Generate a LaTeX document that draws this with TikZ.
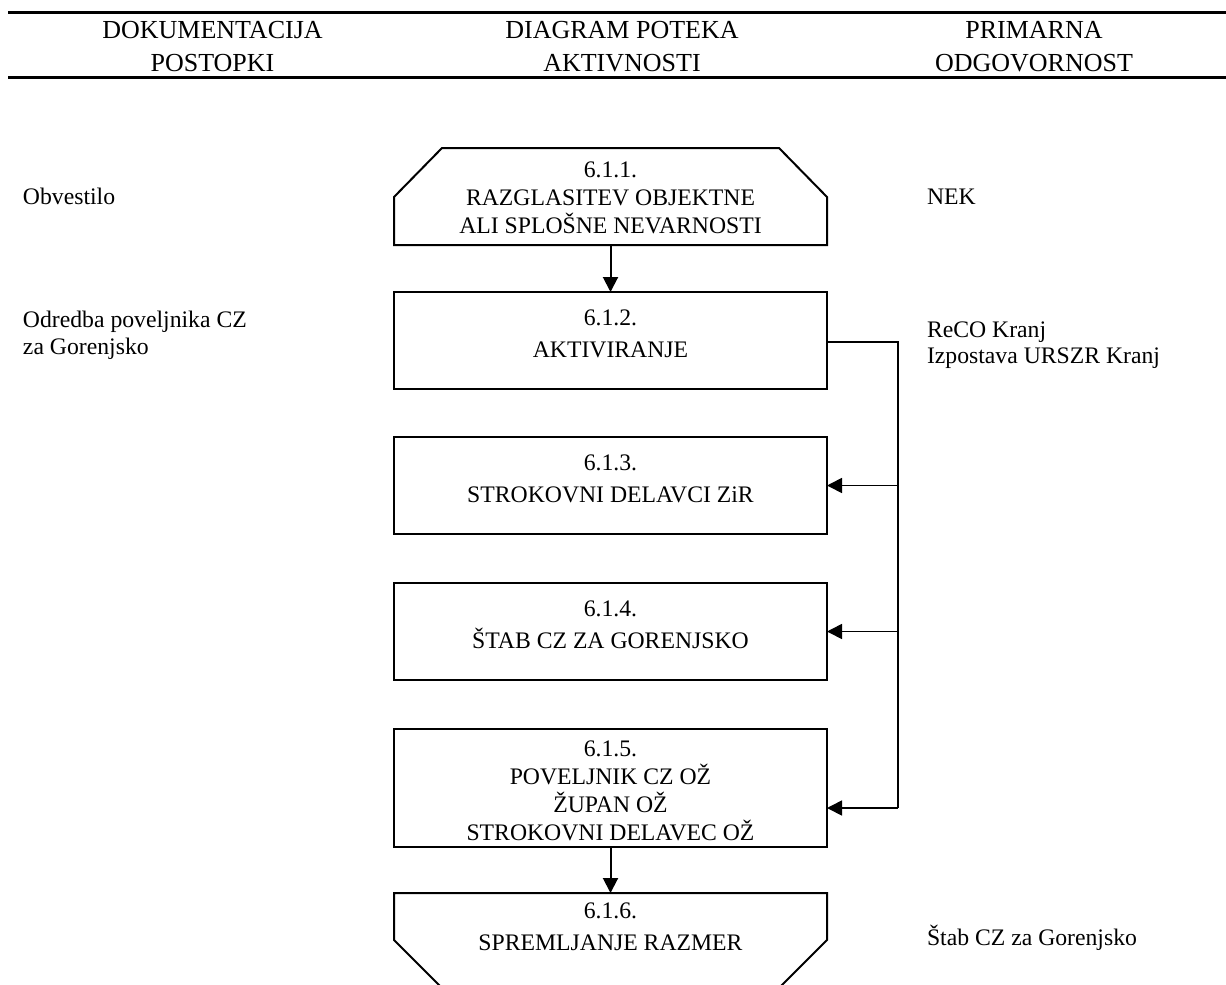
\documentclass[tikz,border=0pt]{standalone}
\usepackage{fontspec}
\setmainfont{Liberation Serif}
\usetikzlibrary{arrows.meta}
\begin{document}
\begin{tikzpicture}[x=0.5pt,y=-0.5pt,
  every node/.style={inner sep=0pt, outer sep=0pt},
  body/.style={font=\fontsize{11.85}{14}\selectfont, anchor=base},
  ltext/.style={body, anchor=base west},
  hdr/.style={font=\fontsize{13}{16}\selectfont, anchor=base},
  rule/.style={line width=1.2pt},
  boxshape/.style={draw, line width=1pt, minimum width=216.5pt, minimum height=#1},
  chamfbox/.style={minimum width=216.5pt, minimum height=#1},
  outline/.style={line width=1pt, line join=miter},
  conn/.style={line width=0.85pt},
  arr/.style={-{Triangle[length=7.5pt,width=7.5pt]}, line width=1pt},
  barr/.style={-{Triangle[length=7.5pt,width=7.5pt]}, line width=0.85pt}]
\useasboundingbox (0,0) rectangle (1226,985);

% header
\draw[rule] (8,12.3) -- (1226,12.3);
\draw[rule] (8,77.3) -- (1226,77.3);
\node[hdr] (h1a) at (212.5,38.3) {DOKUMENTACIJA};
\node[hdr] (h1b) at (212.5,71.7) {POSTOPKI};
\node[hdr] (h2a) at (622,38.3) {DIAGRAM POTEKA};
\node[hdr] (h2b) at (622,71.7) {AKTIVNOSTI};
\node[hdr] (h3a) at (1034,38.3) {PRIMARNA};
\node[hdr] (h3b) at (1034,71.7) {ODGOVORNOST};

% boxes
\node[chamfbox=48.5pt] (b1) at (610.5,196.5) {};
\draw[outline] (b1.south west) -- ([yshift=-24.5pt]b1.north west) -- ([xshift=24pt]b1.north west)
  -- ([xshift=-24pt]b1.north east) -- ([yshift=-24.5pt]b1.north east) -- (b1.south east) -- cycle;
\node[boxshape=48.5pt] (b2) at (610.5,340.5) {};
\node[boxshape=48.5pt] (b3) at (610.5,485.5) {};
\node[boxshape=48.5pt] (b4) at (610.5,631.5) {};
\node[boxshape=59pt] (b5) at (610.5,788) {};
\node[chamfbox=47.5pt] (b6) at (610.5,940.5) {};
\draw[outline] (b6.north west) -- ([yshift=24pt]b6.south west) -- ([xshift=24pt]b6.south west)
  -- ([xshift=-24pt]b6.south east) -- ([yshift=24pt]b6.south east) -- (b6.north east) -- cycle;

% box texts
\node[body] (t1a) at (610.5,177) {6.1.1.};
\node[body] (t1b) at (610.5,205) {RAZGLASITEV OBJEKTNE};
\node[body] (t1c) at (610.5,233) {ALI SPLOŠNE NEVARNOSTI};
\node[body] (t2a) at (610.5,325) {6.1.2.};
\node[body] (t2b) at (610.5,357) {AKTIVIRANJE};
\node[body] (t3a) at (610.5,470) {6.1.3.};
\node[body] (t3b) at (610.5,502) {STROKOVNI DELAVCI ZiR};
\node[body] (t4a) at (610.5,616) {6.1.4.};
\node[body] (t4b) at (610.5,648) {ŠTAB CZ ZA GORENJSKO};
\node[body] (t5a) at (610.5,756) {6.1.5.};
\node[body] (t5b) at (610.5,784) {POVELJNIK CZ OŽ};
\node[body] (t5c) at (610.5,812) {ŽUPAN OŽ};
\node[body] (t5d) at (610.5,840) {STROKOVNI DELAVEC OŽ};
\node[body] (t6a) at (610.5,918) {6.1.6.};
\node[body] (t6b) at (610.5,950) {SPREMLJANJE RAZMER};

% left column
\node[ltext] (l1) at (23,204) {Obvestilo};
\node[ltext] (l2a) at (23,327) {Odredba poveljnika CZ};
\node[ltext] (l2b) at (23,354) {za Gorenjsko};

% right column
\node[ltext] (r1) at (927,204) {NEK};
\node[ltext] (r2a) at (927,337) {ReCO Kranj};
\node[ltext] (r2b) at (927,363.3) {Izpostava URSZR Kranj};
\node[ltext] (r6) at (927,945) {Štab CZ za Gorenjsko};

% connectors
\draw[arr] (b1.south) -- (b2.north);
\draw[arr] (b5.south) -- (b6.north);
\coordinate (jt) at (898,342);
\coordinate (jb) at (898,808);
\draw[conn] (b2.east |- jt) -- (jt) -- (jb);
\draw[barr] (jt |- b3.east) -- (b3.east);
\draw[barr] (jt |- b4.east) -- (b4.east);
\draw[barr] (jb) -- (b5.east |- jb);
\end{tikzpicture}
\end{document}
